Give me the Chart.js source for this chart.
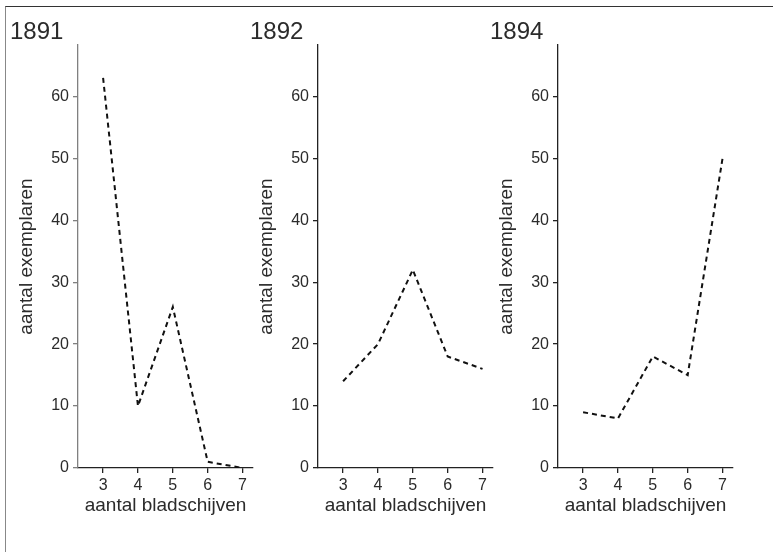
<!DOCTYPE html>
<html>
<head>
<meta charset="utf-8">
<script src="https://cdn.jsdelivr.net/npm/chart.js@4.4.1/dist/chart.umd.min.js"></script>
<style>
  body { margin: 0; background: #fff; }
  #frame { position: absolute; left: 5px; top: 6px; width: 768px; height: 546px;
           border-top: 1.5px solid #333; border-left: 1.5px solid #888; }
  .panel { position: absolute; top: 0; width: 245px; height: 552px; }
</style>
</head>
<body>
<div id="frame"></div>
<div class="panel" style="left:10px"><canvas id="c1891" width="245" height="552"></canvas></div>
<div class="panel" style="left:250px"><canvas id="c1892" width="245" height="552"></canvas></div>
<div class="panel" style="left:490px"><canvas id="c1894" width="245" height="552"></canvas></div>
<script>
"use strict";

// aantal bladschijven
var categories = [3, 4, 5, 6, 7];
// aantal exemplaren per jaar
var values1891 = [63, 10, 26, 1, 0];
var values1892 = [14, 20, 32, 18, 16];
var values1894 = [9, 8, 18, 15, 50];
var yTicks = [0, 10, 20, 30, 40, 50, 60];

var fontFamily = "'Liberation Sans', Arial, sans-serif";
var textColor = '#2b2b2b';

function BuildPanel(canvasId, year, values, yAxisColor) {
    var points = categories.map(function (c, i) { return { x: c, y: values[i] }; });
    return new Chart(document.getElementById(canvasId), {
        type: 'line',
        data: {
            datasets: [{
                data: points,
                borderColor: '#111',
                borderWidth: 2,
                borderDash: [5, 4],
                pointRadius: 0,
                tension: 0,
                fill: false
            }]
        },
        options: {
            responsive: false,
            animation: false,
            layout: { padding: { left: 0, right: 2, top: 0, bottom: 34.6 } },
            plugins: {
                legend: { display: false },
                tooltip: { enabled: false },
                title: {
                    display: true,
                    text: year,
                    align: 'start',
                    color: textColor,
                    font: { family: fontFamily, size: 24, weight: 'normal', lineHeight: 1 },
                    padding: { top: 20.4, bottom: 0.6 }
                }
            },
            scales: {
                x: {
                    type: 'linear',
                    min: 2.28,
                    max: 7.3,
                    afterBuildTicks: function (scale) {
                        scale.ticks = categories.map(function (c) { return { value: c }; });
                    },
                    afterFit: function (scale) { scale.height = 49.4; },
                    grid: { display: true, drawOnChartArea: false, drawTicks: true, tickLength: 5, color: '#222', lineWidth: 1.3 },
                    border: { display: true, color: '#222', width: 1.3 },
                    ticks: { color: textColor, padding: 3, maxRotation: 0, font: { family: fontFamily, size: 16 } },
                    title: {
                        display: true,
                        text: 'aantal bladschijven',
                        color: textColor,
                        font: { family: fontFamily, size: 19 },
                        padding: { top: 0, bottom: 0 }
                    }
                },
                y: {
                    min: 0,
                    max: 68.3,
                    afterBuildTicks: function (scale) {
                        scale.ticks = yTicks.map(function (v) { return { value: v }; });
                    },
                    afterFit: function (scale) { scale.width = 68; },
                    grid: { display: true, drawOnChartArea: false, drawTicks: true, tickLength: 5, color: yAxisColor, lineWidth: 1.3 },
                    border: { display: true, color: yAxisColor, width: 1.3 },
                    ticks: { color: textColor, padding: 4, font: { family: fontFamily, size: 16 } },
                    title: {
                        display: true,
                        text: 'aantal exemplaren',
                        color: textColor,
                        font: { family: fontFamily, size: 19 },
                        padding: { top: 5, bottom: 0 }
                    }
                }
            }
        }
    });
}

BuildPanel('c1891', '1891', values1891, '#808080');
BuildPanel('c1892', '1892', values1892, '#222');
BuildPanel('c1894', '1894', values1894, '#222');
</script>
</body>
</html>
